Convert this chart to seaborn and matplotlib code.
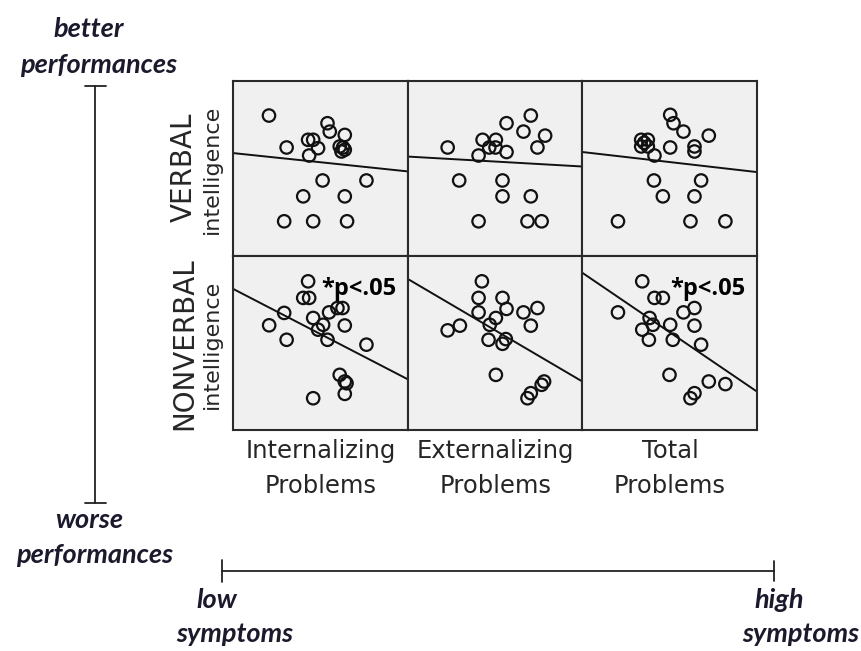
import matplotlib
matplotlib.use("Agg")
import matplotlib.pyplot as plt
from matplotlib.lines import Line2D
import pandas as pd
import seaborn as sns

W, H = 862, 651

domains = ["VERBAL", "NONVERBAL"]
scale_names = ["Internalizing", "Externalizing", "Total"]

# Symptom score (x) and intelligence score (y), both rescaled to 0-100
verbal_int_x = [20.6, 30.7, 43.0, 45.9, 54.1, 55.4, 64.0, 48.7, 43.6, 61.1, 63.0, 64.0, 62.1, 51.3, 76.4, 40.2, 64.0, 29.3, 45.9, 65.3]
verbal_int_y = [80.2, 61.9, 66.3, 66.3, 75.8, 71.0, 69.1, 61.5, 57.3, 62.5, 61.9, 60.6, 59.6, 43.0, 43.0, 33.9, 33.9, 19.6, 19.6, 19.6]

verbal_ext_x = [22.9, 42.9, 50.5, 46.7, 50.3, 40.6, 56.6, 56.6, 70.5, 66.3, 78.7, 74.3, 29.5, 54.3, 54.3, 70.5, 40.6, 68.6, 76.7]
verbal_ext_y = [61.9, 66.3, 66.3, 61.9, 61.9, 57.3, 59.3, 75.8, 80.2, 71.0, 68.7, 61.9, 43.0, 43.0, 33.9, 33.9, 19.6, 19.6, 19.6]

verbal_tot_x = [33.7, 37.5, 33.7, 37.5, 35.4, 41.3, 50.3, 52.2, 57.9, 72.4, 50.3, 64.2, 64.2, 41.0, 68.0, 46.1, 64.2, 20.4, 61.9, 81.9]
verbal_tot_y = [66.3, 66.3, 62.5, 62.5, 64.6, 57.3, 80.6, 75.8, 71.0, 68.7, 61.9, 62.5, 59.6, 43.0, 43.0, 33.9, 33.9, 19.6, 19.6, 19.6]

nonverbal_int_x = [43.0, 40.2, 43.6, 29.3, 20.7, 30.7, 45.9, 55.0, 59.8, 62.7, 51.6, 48.7, 64.0, 54.1, 76.4, 61.1, 64.0, 65.0, 64.0, 45.9]
nonverbal_int_y = [85.2, 75.7, 75.7, 67.1, 60.0, 51.7, 64.2, 67.4, 69.9, 69.9, 60.3, 57.5, 59.9, 51.7, 48.9, 31.6, 27.8, 26.8, 20.7, 18.2]

nonverbal_ext_x = [42.5, 40.6, 54.3, 40.6, 56.6, 50.5, 47.0, 22.9, 29.9, 46.3, 54.3, 56.2, 66.3, 74.3, 70.5, 50.5, 78.1, 76.7, 70.5, 68.6]
nonverbal_ext_y = [85.2, 75.7, 75.7, 67.4, 69.4, 64.2, 60.3, 57.1, 59.8, 51.7, 49.4, 52.1, 67.4, 69.9, 59.8, 31.6, 27.8, 25.9, 21.1, 18.2]

nonverbal_tot_x = [34.3, 41.3, 46.1, 20.4, 38.5, 40.4, 34.3, 38.1, 50.3, 51.8, 57.9, 64.2, 64.2, 68.0, 49.9, 72.4, 81.9, 64.2, 61.9]
nonverbal_tot_y = [85.2, 75.7, 75.7, 67.4, 64.2, 60.3, 57.5, 51.7, 60.3, 51.7, 67.4, 69.9, 59.8, 48.9, 31.6, 27.8, 26.3, 21.1, 18.2]

# Linear fit: predicted score at the lowest (x=0) and highest (x=100) symptom level
verbal_fit_low = [58.7, 56.7, 59.3]
verbal_fit_high = [48.2, 51.0, 47.8]
nonverbal_fit_low = [80.9, 86.6, 90.1]
nonverbal_fit_high = [29.1, 27.8, 22.0]

significance = [["", "", ""], ["*p<.05", "", "*p<.05"]]

points = {
    ("VERBAL", "Internalizing"): (verbal_int_x, verbal_int_y),
    ("VERBAL", "Externalizing"): (verbal_ext_x, verbal_ext_y),
    ("VERBAL", "Total"): (verbal_tot_x, verbal_tot_y),
    ("NONVERBAL", "Internalizing"): (nonverbal_int_x, nonverbal_int_y),
    ("NONVERBAL", "Externalizing"): (nonverbal_ext_x, nonverbal_ext_y),
    ("NONVERBAL", "Total"): (nonverbal_tot_x, nonverbal_tot_y),
}
fits = {
    "VERBAL": (verbal_fit_low, verbal_fit_high),
    "NONVERBAL": (nonverbal_fit_low, nonverbal_fit_high),
}

rows = []
for (dom, sc), (xs, ys) in points.items():
    for x, y in zip(xs, ys):
        rows.append({"domain": dom, "scale": sc, "symptoms": x, "score": y})
df = pd.DataFrame(rows)

sns.set_theme(style="white")
plt.rcParams["font.family"] = ["DejaVu Sans"]

fig = plt.figure(figsize=(W / 100, H / 100), dpi=100)
gs = fig.add_gridspec(2, 3, left=233 / W, right=757 / W,
                      top=1 - 81 / H, bottom=1 - 430 / H,
                      wspace=0, hspace=0)

for r, dom in enumerate(domains):
    lo, hi = fits[dom]
    for c, sc in enumerate(scale_names):
        ax = fig.add_subplot(gs[r, c])
        sub = df[(df.domain == dom) & (df.scale == sc)]
        sns.scatterplot(data=sub, x="symptoms", y="score", ax=ax,
                        marker="o", s=80, facecolor="none",
                        edgecolor="#111111", linewidth=1.6, legend=False)
        sns.lineplot(x=[0, 100], y=[lo[c], hi[c]], ax=ax,
                     color="#111111", linewidth=1.4)
        ax.set_xlim(0, 100)
        ax.set_ylim(0, 100)
        ax.set_facecolor("#f0f0f0")
        ax.set_xticks([])
        ax.set_yticks([])
        ax.set_xlabel("")
        ax.set_ylabel("")
        for sp in ax.spines.values():
            sp.set_visible(True)
            sp.set_color("#2a2a2a")
            sp.set_linewidth(1.5)
        if significance[r][c]:
            ax.text(50.5, 77.6, significance[r][c], ha="left", va="baseline",
                    fontsize=17, fontweight="bold", family="Open Sans",
                    color="#000000")


def fx(px):
    return px / W


def fy(py):
    return 1 - py / H


label_color = "#262626"
# Row labels
for dom, yc in [("VERBAL", 167), ("NONVERBAL", 343.5)]:
    fig.text(fx(192), fy(yc), dom, rotation=90, rotation_mode="anchor",
             ha="center", va="baseline", fontsize=20, color=label_color)
for yc in [169, 344]:
    fig.text(fx(218), fy(yc), "intelligence", rotation=90,
             rotation_mode="anchor", ha="center", va="baseline",
             fontsize=16, color=label_color)

# Column labels
col_centers = [320.5, 495.5, 670]
for sc, xc in zip(scale_names, col_centers):
    fig.text(fx(xc), fy(458), sc, ha="center", va="baseline",
             fontsize=17.5, color=label_color)
    fig.text(fx(xc), fy(493), "Problems", ha="center", va="baseline",
             fontsize=17.5, color=label_color)

# Direction annotations
note = dict(fontsize=19.5, fontweight="bold", fontstyle="italic",
            family="Lato", color="#1a1a2c", ha="center", va="baseline")
fig.text(fx(89), fy(37), "better", **note)
fig.text(fx(99), fy(73), "performances", **note)
fig.text(fx(89), fy(528), "worse", **note)
fig.text(fx(95), fy(563), "performances", **note)
fig.text(fx(217), fy(608), "low", **note)
fig.text(fx(235), fy(642), "symptoms", **note)
fig.text(fx(779), fy(608), "high", **note)
fig.text(fx(801), fy(642), "symptoms", **note)

bar = dict(color="#222222", linewidth=1.3, transform=fig.transFigure)
# vertical performance axis
fig.add_artist(Line2D([fx(95), fx(95)], [fy(86), fy(503)], **bar))
fig.add_artist(Line2D([fx(85), fx(106)], [fy(86), fy(86)], **bar))
fig.add_artist(Line2D([fx(85), fx(106)], [fy(503), fy(503)], **bar))
# horizontal symptom axis
fig.add_artist(Line2D([fx(222), fx(774)], [fy(571), fy(571)], **bar))
fig.add_artist(Line2D([fx(222), fx(222)], [fy(560), fy(582)], **bar))
fig.add_artist(Line2D([fx(774), fx(774)], [fy(561), fy(581)], **bar))

fig.savefig("out.png", dpi=100)
